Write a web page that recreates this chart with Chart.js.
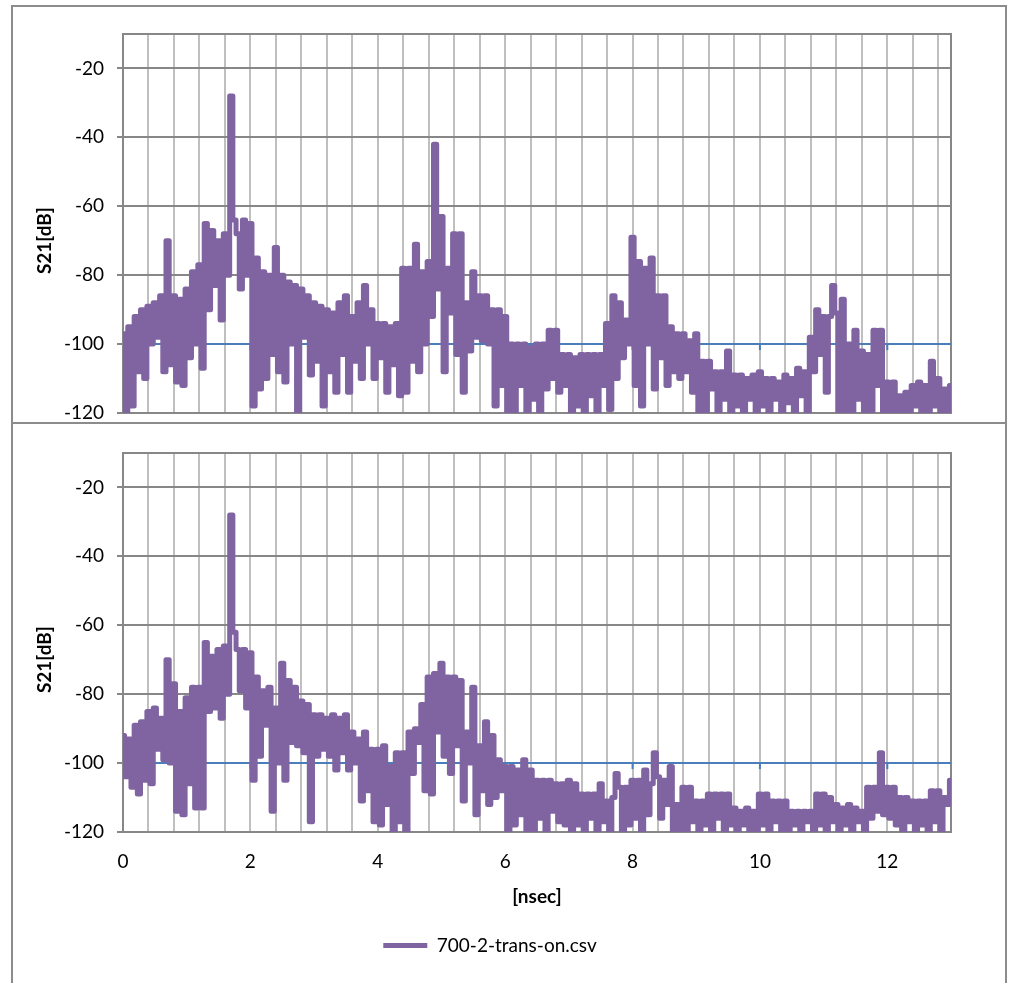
<!DOCTYPE html>
<html>
<head>
<meta charset="utf-8">
<script src="https://cdn.jsdelivr.net/npm/chart.js@4.4.1/dist/chart.umd.min.js"></script>
<style>
  html, body { margin: 0; padding: 0; background: #fff; }
  #wrap { position: relative; width: 1010px; height: 983px; overflow: hidden; }
  canvas { position: absolute; left: 0; }
  #top { top: 0; }
  #bottom { top: 423px; }
  .frame { position: absolute; left: 11px; top: 5px; width: 992px; height: 1000px; border: 2px solid #8c8c8c; }
  .divider { position: absolute; left: 11px; top: 422px; width: 996px; height: 2px; background: #8c8c8c; }
</style>
</head>
<body>
<div id="wrap">
  <div class="frame"></div>
  <div class="divider"></div>
  <canvas id="top" width="1010" height="423"></canvas>
  <canvas id="bottom" width="1010" height="560"></canvas>
</div>
<script>
/* ---- data: S21 time-domain response, one sample every 0.05 ns ---- */
const STEP = 0.05;
const X_MIN = 0, X_MAX = 13;
const Y_MIN = -120, Y_MAX = -10;
const Y_TICKS = [-120, -100, -80, -60, -40, -20];
const X_LABELS = [0, 2, 4, 6, 8, 10, 12];
const X_GRID_STEP = 0.4;
const REF_LEVEL = -100;
const SERIES_NAME = "700-2-trans-on.csv";
const Y_TITLE = "S21[dB]";
const X_TITLE = "[nsec]";

// upper panel
const S21_TOP = [
  -97,-120,-95,-118,-92,-108,-90,-110,-89,-100,-88,-98,-86,-108,-70,-106,-86,-111,-87,-112,
  -84,-104,-79,-100,-77,-107,-65,-90,-67,-83,-70,-93,-68,-80,-28,-64,-68,-84,-64,-80,
  -65,-118,-75,-113,-79,-110,-80,-103,-72,-108,-80,-111,-82,-100,-83,-120,-84,-98,-86,-109,
  -88,-105,-89,-118,-90,-108,-91,-114,-88,-103,-86,-114,-92,-105,-88,-110,-83,-100,-90,-110,
  -94,-104,-94,-114,-95,-106,-94,-115,-78,-114,-78,-105,-71,-108,-79,-100,-76,-92,-42,-84,
  -63,-108,-78,-91,-68,-103,-68,-114,-88,-102,-79,-98,-86,-99,-86,-100,-90,-118,-90,-112,
  -92,-120,-100,-120,-100,-112,-100,-120,-101,-116,-100,-120,-100,-113,-96,-110,-96,-114,-103,-112,
  -103,-120,-104,-118,-103,-120,-103,-115,-103,-120,-103,-112,-94,-119,-86,-110,-88,-104,-93,-100,
  -69,-112,-76,-118,-78,-100,-75,-113,-86,-104,-86,-112,-95,-108,-97,-110,-97,-108,-99,-114,
  -97,-120,-105,-120,-105,-113,-108,-120,-108,-116,-102,-120,-109,-118,-109,-120,-110,-116,-109,-120,
  -108,-118,-110,-120,-110,-116,-111,-120,-109,-117,-110,-120,-107,-115,-108,-120,-98,-108,-90,-103,
  -92,-114,-92,-83,-91,-120,-87,-120,-100,-120,-96,-116,-102,-120,-103,-120,-96,-112,-96,-120,
  -111,-120,-111,-120,-115,-120,-114,-120,-112,-118,-111,-120,-112,-120,-105,-118,-110,-120,-113,-120,
  -112
];

// lower panel
const S21_BOTTOM = [
  -92,-104,-93,-107,-89,-109,-88,-105,-85,-106,-84,-96,-87,-99,-70,-100,-77,-114,-85,-115,
  -81,-106,-78,-113,-78,-113,-65,-85,-69,-84,-67,-87,-66,-80,-28,-62,-67,-79,-67,-84,
  -68,-105,-75,-98,-79,-89,-78,-114,-84,-100,-71,-105,-76,-94,-78,-95,-82,-97,-83,-117,
  -86,-98,-86,-96,-87,-98,-86,-102,-87,-97,-86,-102,-91,-100,-93,-111,-91,-108,-96,-117,
  -96,-118,-95,-112,-101,-120,-97,-117,-97,-120,-91,-103,-90,-94,-83,-108,-75,-109,-74,-91,
  -71,-98,-75,-103,-75,-95,-76,-111,-91,-100,-78,-115,-95,-108,-88,-112,-92,-110,-99,-108,
  -101,-120,-101,-118,-102,-115,-99,-120,-102,-120,-105,-116,-105,-120,-105,-114,-106,-117,-106,-118,
  -105,-120,-106,-118,-109,-120,-109,-116,-109,-120,-106,-117,-111,-120,-110,-103,-107,-120,-107,-118,
  -105,-116,-105,-120,-102,-115,-106,-97,-104,-116,-105,-112,-101,-120,-112,-120,-107,-120,-107,-117,
  -111,-120,-111,-118,-109,-120,-109,-116,-109,-120,-109,-118,-113,-120,-114,-118,-113,-120,-114,-120,
  -109,-118,-109,-120,-111,-117,-111,-120,-111,-120,-114,-118,-114,-120,-114,-117,-114,-120,-109,-118,
  -109,-120,-110,-117,-112,-120,-113,-118,-112,-120,-113,-117,-114,-120,-107,-116,-107,-114,-97,-115,
  -107,-116,-107,-118,-110,-120,-110,-117,-111,-120,-111,-118,-111,-120,-108,-117,-108,-120,-110,-112,
  -105
];

const PURPLE = "#8064a2";
const BLUE = "#4a7ebb";
const GRID_DARK = "#878787";
const GRID_LIGHT = "#bfbfbf";
const FONT = { family: "Lato", size: 19 };

const toPoints = (vals) => vals.map((v, i) => ({ x: Math.round(i * STEP * 100) / 100, y: v }));
const isMajor = (v) => X_LABELS.some((m) => Math.abs(m - v) < 1e-6);

// plot frame, axis ticks on the reference line, rotated y title
const plotFrame = {
  id: "plotFrame",
  beforeDatasetsDraw(chart) {
    const { ctx, chartArea: a, scales: { x, y } } = chart;
    ctx.save();
    const yr = y.getPixelForValue(REF_LEVEL);
    ctx.strokeStyle = BLUE; ctx.lineWidth = 2;
    X_LABELS.forEach((v) => {
      const px = x.getPixelForValue(v);
      ctx.beginPath(); ctx.moveTo(px, yr); ctx.lineTo(px, yr + 6); ctx.stroke();
    });
    ctx.strokeStyle = GRID_DARK; ctx.lineWidth = 2;
    ctx.strokeRect(a.left, a.top, a.width, a.height);
    ctx.restore();
  },
  afterDraw(chart) {
    const { ctx, scales: { y } } = chart;
    ctx.save();
    ctx.translate(45, y.getPixelForValue((Y_TICKS[0] + Y_TICKS[Y_TICKS.length - 1]) / 2));
    ctx.rotate(-Math.PI / 2);
    ctx.font = "bold 19px Lato";
    ctx.fillStyle = "#000";
    ctx.textAlign = "center"; ctx.textBaseline = "middle";
    ctx.fillText(Y_TITLE, 0, 0);
    ctx.restore();
  },
};

function panel(id, values, isBottom) {
  return new Chart(document.getElementById(id), {
    type: "line",
    data: {
      datasets: [
        { label: SERIES_NAME, data: toPoints(values), borderColor: PURPLE, backgroundColor: PURPLE,
          borderWidth: 5, pointRadius: 0, stepped: "middle", borderJoinStyle: "round", borderCapStyle: "round" },
        { label: "ref", data: [{ x: X_MIN, y: REF_LEVEL }, { x: X_MAX, y: REF_LEVEL }],
          borderColor: BLUE, borderWidth: 2, pointRadius: 0 },
      ],
    },
    options: {
      responsive: false, animation: false, events: [],
      layout: { padding: { left: 29, right: 59, top: isBottom ? 30 : 34, bottom: isBottom ? 18 : 0 } },
      plugins: {
        tooltip: { enabled: false },
        legend: isBottom ? {
          position: "bottom",
          labels: {
            filter: (it) => it.datasetIndex === 0,
            usePointStyle: true, pointStyle: "line", pointStyleWidth: 44, boxWidth: 44,
            color: "#000", font: FONT, padding: 10,
          },
        } : { display: false },
      },
      scales: {
        x: {
          type: "linear", min: X_MIN, max: X_MAX,
          afterBuildTicks: (s) => {
            const t = [];
            for (let v = X_MIN; v <= X_MAX + 1e-9; v += X_GRID_STEP) t.push({ value: Math.round(v * 100) / 100 });
            s.ticks = t;
          },
          grid: { color: GRID_LIGHT, lineWidth: 2, drawTicks: false },
          border: { display: false },
          ticks: {
            display: isBottom, autoSkip: false, maxRotation: 0, padding: 18, color: "#000", font: FONT,
            callback: (v) => (isMajor(v) ? String(Math.round(v)) : ""),
          },
          title: { display: isBottom, text: X_TITLE, color: "#000",
                   font: { family: "Lato", size: 19, weight: "bold" }, padding: { top: 0, bottom: 18 } },
          afterFit: (s) => { s.height = isBottom ? 94 : 10; s.paddingLeft = 0; s.paddingRight = 0; },
        },
        y: {
          min: Y_MIN, max: Y_MAX,
          afterBuildTicks: (s) => { s.ticks = Y_TICKS.map((v) => ({ value: v })); },
          grid: { color: GRID_DARK, lineWidth: 2, tickLength: 6 },
          border: { display: false },
          ticks: { padding: 13, color: "#000", font: FONT },
          afterFit: (s) => { s.width = 94; s.paddingTop = 0; s.paddingBottom = 0; },
        },
      },
    },
    plugins: [plotFrame],
  });
}

panel("top", S21_TOP, false);
panel("bottom", S21_BOTTOM, true);
</script>
</body>
</html>
